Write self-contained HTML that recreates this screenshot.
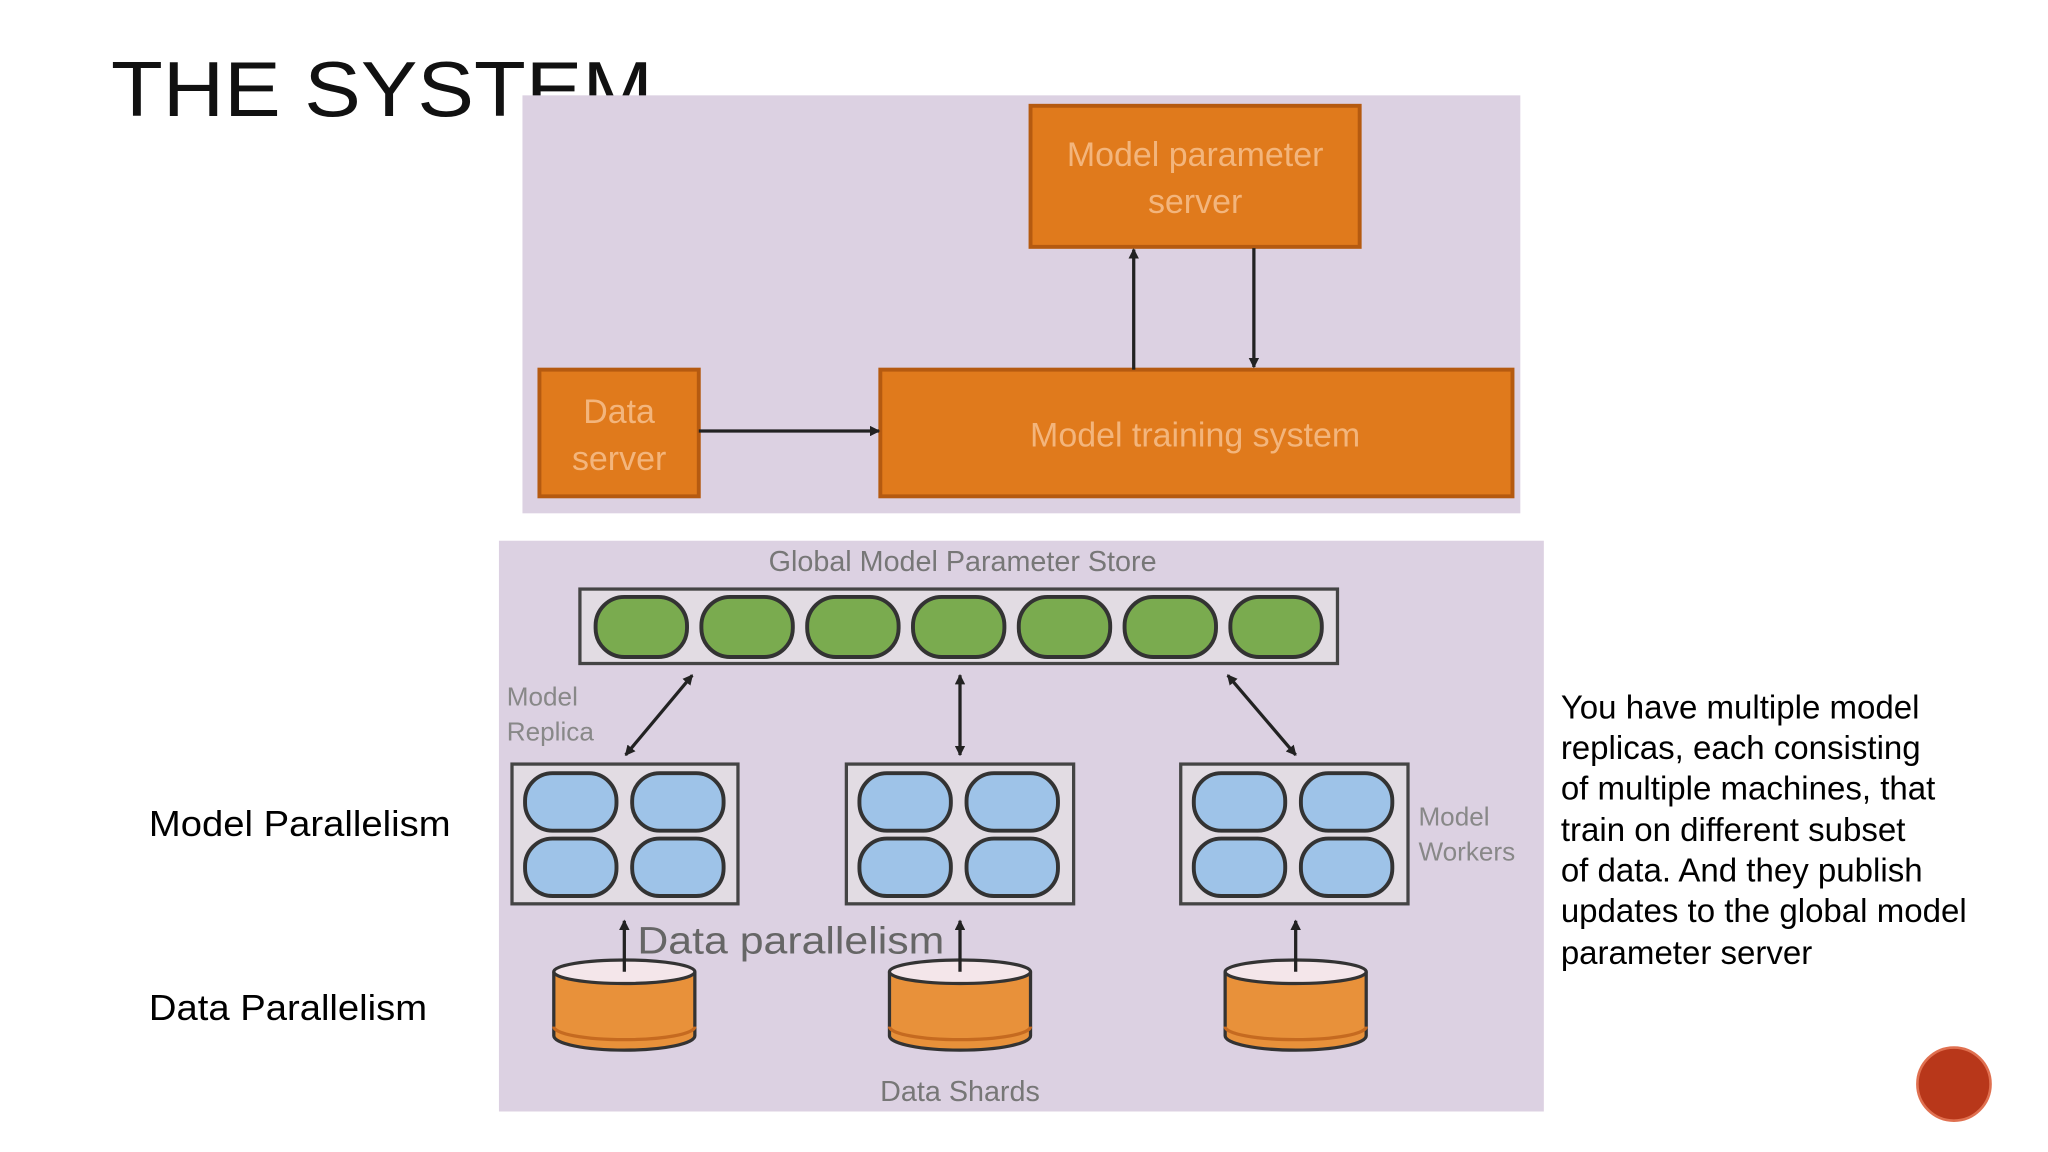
<!DOCTYPE html>
<html><head><meta charset="utf-8"><style>
html,body{margin:0;padding:0;background:#fff;}
svg{display:block;}
text{font-family:"Liberation Sans",sans-serif;}
</style></head><body>
<svg width="2048" height="1152" viewBox="0 0 1568 882" xmlns="http://www.w3.org/2000/svg">
<defs>
<marker id="ah" markerWidth="8" markerHeight="8" refX="7" refY="4" orient="auto" markerUnits="userSpaceOnUse">
<path d="M0,0 L8,4 L0,8 z" fill="#222"/></marker>
<marker id="as" markerWidth="8" markerHeight="8" refX="1" refY="4" orient="auto" markerUnits="userSpaceOnUse">
<path d="M8,0 L0,4 L8,8 z" fill="#222"/></marker>
</defs>
<rect width="1568" height="882" fill="#fff"/>
<text x="85" y="89" font-size="60" fill="#111" textLength="415" lengthAdjust="spacingAndGlyphs">THE SYSTEM</text>
<rect x="400" y="73" width="764" height="320" fill="#dcd1e2"/>
<g fill="#e07a1c" stroke="#b55a10" stroke-width="3">
<rect x="789" y="81" width="252" height="108"/>
<rect x="413" y="283" width="122" height="97"/>
<rect x="674" y="283" width="484" height="97"/>
</g>
<g fill="#f3b57c" font-size="26" text-anchor="middle">
<text x="915" y="127">Model parameter</text>
<text x="915" y="163">server</text>
<text x="474" y="324">Data</text>
<text x="474" y="360">server</text>
<text x="915" y="342">Model training system</text>
</g>
<g stroke="#222" stroke-width="2.5" fill="none">
<line x1="868" y1="283" x2="868" y2="191" marker-end="url(#ah)"/>
<line x1="960" y1="190" x2="960" y2="281" marker-end="url(#ah)"/>
<line x1="535" y1="330" x2="673" y2="330" marker-end="url(#ah)"/>
</g>
<rect x="382" y="414" width="800" height="437" fill="#dcd1e2"/>
<text x="737" y="437" font-size="22" fill="#777" text-anchor="middle">Global Model Parameter Store</text>
<rect x="444" y="451" width="580" height="57" fill="#e2dce3" stroke="#444" stroke-width="2.5"/>
<g fill="#7aab4f" stroke="#333" stroke-width="3">
<rect x="456" y="457" width="70" height="46" rx="22"/>
<rect x="537" y="457" width="70" height="46" rx="22"/>
<rect x="618" y="457" width="70" height="46" rx="22"/>
<rect x="699" y="457" width="70" height="46" rx="22"/>
<rect x="780" y="457" width="70" height="46" rx="22"/>
<rect x="861" y="457" width="70" height="46" rx="22"/>
<rect x="942" y="457" width="70" height="46" rx="22"/>
</g>
<g stroke="#222" stroke-width="2.5">
<line x1="530" y1="517" x2="479" y2="578" marker-start="url(#as)" marker-end="url(#ah)"/>
<line x1="735" y1="517" x2="735" y2="578" marker-start="url(#as)" marker-end="url(#ah)"/>
<line x1="940" y1="517" x2="992" y2="578" marker-start="url(#as)" marker-end="url(#ah)"/>
</g>
<g fill="#888" font-size="20">
<text x="388" y="540">Model</text><text x="388" y="567">Replica</text>
<text x="1086" y="632">Model</text><text x="1086" y="659">Workers</text>
</g>
<g fill="#e2dce3" stroke="#444" stroke-width="2.5">
<rect x="392" y="585" width="173" height="107"/>
<rect x="648" y="585" width="174" height="107"/>
<rect x="904" y="585" width="174" height="107"/>
</g>
<g fill="#9ec3e8" stroke="#333" stroke-width="3">
<rect x="402" y="592" width="70" height="44" rx="21"/><rect x="484" y="592" width="70" height="44" rx="21"/>
<rect x="402" y="642" width="70" height="44" rx="21"/><rect x="484" y="642" width="70" height="44" rx="21"/>
<rect x="658" y="592" width="70" height="44" rx="21"/><rect x="740" y="592" width="70" height="44" rx="21"/>
<rect x="658" y="642" width="70" height="44" rx="21"/><rect x="740" y="642" width="70" height="44" rx="21"/>
<rect x="914" y="592" width="70" height="44" rx="21"/><rect x="996" y="592" width="70" height="44" rx="21"/>
<rect x="914" y="642" width="70" height="44" rx="21"/><rect x="996" y="642" width="70" height="44" rx="21"/>
</g>
<g stroke="#333" stroke-width="2.5">
<g transform="translate(478,0)"><path d="M-54,744 L-54,793 A54,11 0 0 0 54,793 L54,744" fill="#e8913a"/><ellipse cx="0" cy="744" rx="54" ry="9" fill="#f4e6ea"/><path d="M-54,786 A54,10 0 0 0 54,786" fill="none" stroke="#c56a20"/></g>
<g transform="translate(735,0)"><path d="M-54,744 L-54,793 A54,11 0 0 0 54,793 L54,744" fill="#e8913a"/><ellipse cx="0" cy="744" rx="54" ry="9" fill="#f4e6ea"/><path d="M-54,786 A54,10 0 0 0 54,786" fill="none" stroke="#c56a20"/></g>
<g transform="translate(992,0)"><path d="M-54,744 L-54,793 A54,11 0 0 0 54,793 L54,744" fill="#e8913a"/><ellipse cx="0" cy="744" rx="54" ry="9" fill="#f4e6ea"/><path d="M-54,786 A54,10 0 0 0 54,786" fill="none" stroke="#c56a20"/></g>
</g>
<g stroke="#222" stroke-width="2.5">
<line x1="478" y1="744" x2="478" y2="705" marker-end="url(#ah)"/>
<line x1="735" y1="744" x2="735" y2="705" marker-end="url(#ah)"/>
<line x1="992" y1="744" x2="992" y2="705" marker-end="url(#ah)"/>
</g>
<text x="488" y="730" font-size="29" fill="#666" textLength="235" lengthAdjust="spacingAndGlyphs">Data parallelism</text>
<text x="735" y="843" font-size="22" fill="#777" text-anchor="middle">Data Shards</text>
<g fill="#000" font-size="28">
<text x="114" y="640" textLength="231" lengthAdjust="spacingAndGlyphs">Model Parallelism</text>
<text x="114" y="781" textLength="213" lengthAdjust="spacingAndGlyphs">Data Parallelism</text>
</g>
<g fill="#000" font-size="25.3">
<text x="1195" y="550">You have multiple model</text>
<text x="1195" y="581">replicas, each consisting</text>
<text x="1195" y="612">of multiple machines, that</text>
<text x="1195" y="644">train on different subset</text>
<text x="1195" y="675">of data. And they publish</text>
<text x="1195" y="706">updates to the global model</text>
<text x="1195" y="738">parameter server</text>
</g>
<circle cx="1496" cy="830" r="28" fill="#b8371a" stroke="#e07050" stroke-width="2"/>
</svg>
</body></html>
